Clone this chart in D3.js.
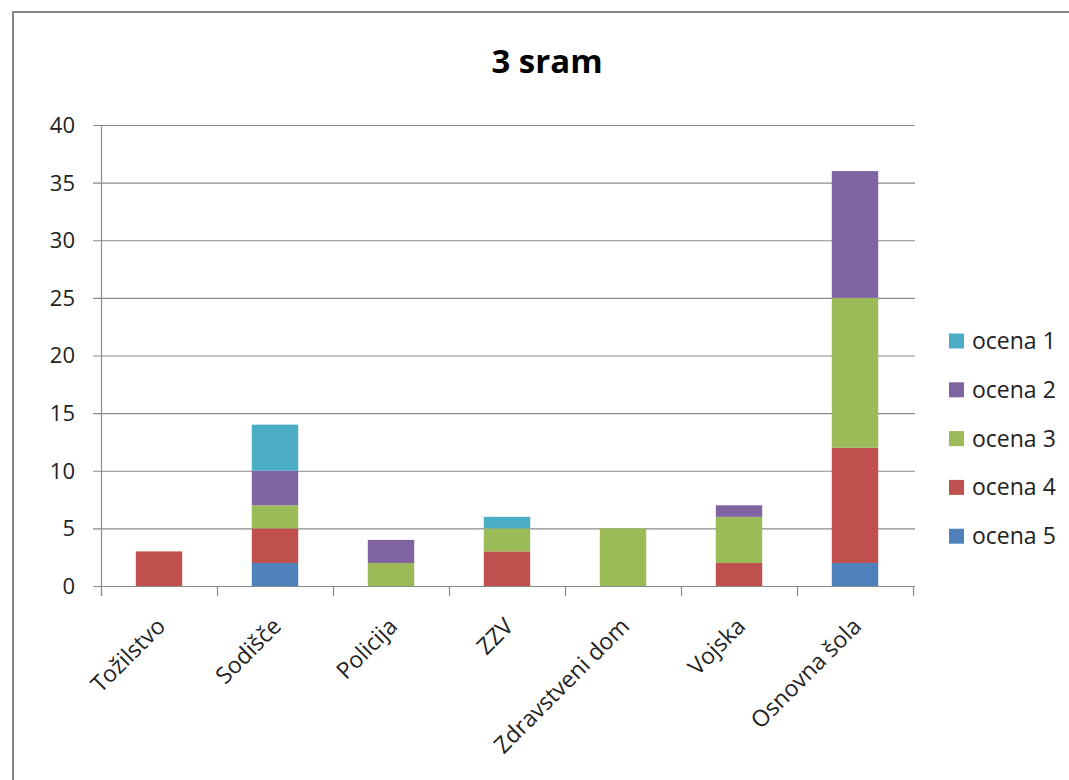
<!DOCTYPE html>
<html>
<head>
<meta charset="utf-8">
<script src="https://cdnjs.cloudflare.com/ajax/libs/d3/7.8.5/d3.min.js"></script>
<style>
  html, body { margin: 0; padding: 0; background: #fff; }
  svg { display: block; }
</style>
</head>
<body>
<svg id="chart" width="1069" height="780"></svg>
<script>
// Institutions on the x axis
const categories = ["Tožilstvo", "Sodišče", "Policija", "ZZV", "Zdravstveni dom", "Vojska", "Osnovna šola"];
// Counts per grade, stacked bottom-up: ocena 5, 4, 3, 2, 1
const ocena5 = [0, 2, 0, 0, 0, 0, 2];
const ocena4 = [3, 3, 0, 3, 0, 2, 10];
const ocena3 = [0, 2, 2, 2, 5, 4, 13];
const ocena2 = [0, 3, 2, 0, 0, 1, 11];
const ocena1 = [0, 4, 0, 1, 0, 0, 0];
const seriesNames = ["ocena 5", "ocena 4", "ocena 3", "ocena 2", "ocena 1"];
const seriesColors = ["#4F81BD", "#C0504D", "#9BBB59", "#8064A2", "#4BACC6"];
const yTicks = [0, 5, 10, 15, 20, 25, 30, 35, 40];
const title = "3 sram";

const svg = d3.select("#chart");
const font = "'Open Sans', 'DejaVu Sans', sans-serif";

// Outer chart frame
svg.append("rect")
  .attr("x", 13).attr("y", 12)
  .attr("width", 1069).attr("height", 800)
  .attr("fill", "#fff").attr("stroke", "#868686").attr("stroke-width", 2);

const plot = { left: 101, right: 913, top: 125, bottom: 586 };

const x = d3.scaleBand().domain(categories).range([plot.left, plot.right]).paddingInner(0.6).paddingOuter(0.3);
const xCat = d3.scaleBand().domain(categories).range([plot.left, plot.right]);
const y = d3.scaleLinear().domain([0, 40]).range([plot.bottom, plot.top]);

// Gridlines
svg.append("g").selectAll("line").data(yTicks).join("line")
  .attr("x1", plot.left - 8).attr("x2", plot.right + 2)
  .attr("y1", d => y(d) + 0.5).attr("y2", d => y(d) + 0.5)
  .attr("stroke", "#8a8a8a").attr("stroke-width", 1.2);

// Y axis line
svg.append("line")
  .attr("x1", plot.left + 0.5).attr("x2", plot.left + 0.5)
  .attr("y1", plot.top).attr("y2", plot.bottom + 10)
  .attr("stroke", "#8a8a8a").attr("stroke-width", 1.2);

// Y tick labels
svg.append("g").selectAll("text").data(yTicks).join("text")
  .attr("x", plot.left - 26).attr("y", d => y(d))
  .attr("dy", "0.36em").attr("text-anchor", "end")
  .attr("font-family", font).attr("font-size", 22).attr("fill", "#222")
  .text(d => d);

// Category tick marks on x axis
const boundaries = categories.map(c => xCat(c)).concat([plot.right]);
svg.append("g").selectAll("line").data(boundaries).join("line")
  .attr("x1", d => d + 0.5).attr("x2", d => d + 0.5)
  .attr("y1", plot.bottom).attr("y2", plot.bottom + 10)
  .attr("stroke", "#8a8a8a").attr("stroke-width", 1.2);

// Stacked bars
const seriesData = [ocena5, ocena4, ocena3, ocena2, ocena1];
const rows = categories.map((c, i) => {
  const r = { cat: c };
  seriesNames.forEach((s, j) => r[s] = seriesData[j][i]);
  return r;
});
const stack = d3.stack().keys(seriesNames)(rows);
svg.append("g").selectAll("g").data(stack).join("g")
  .attr("fill", (d, i) => seriesColors[i])
  .selectAll("rect").data(d => d.filter(p => p[1] > p[0])).join("rect")
  .attr("x", d => x(d.data.cat))
  .attr("width", x.bandwidth())
  .attr("y", d => y(d[1]))
  .attr("height", d => y(d[0]) - y(d[1]));

// Bottom axis line drawn over bars
svg.append("line")
  .attr("x1", plot.left).attr("x2", plot.right + 2)
  .attr("y1", plot.bottom + 0.5).attr("y2", plot.bottom + 0.5)
  .attr("stroke", "#8a8a8a").attr("stroke-width", 1.2);

// Rotated category labels
svg.append("g").selectAll("text").data(categories).join("text")
  .attr("transform", c => `translate(${xCat(c) + xCat.bandwidth() / 2 + 2},${plot.bottom + 36}) rotate(-45)`)
  .attr("text-anchor", "end").attr("dy", "0.35em")
  .attr("font-family", font).attr("font-size", 23).attr("fill", "#222")
  .text(c => c);

// Title
svg.append("text")
  .attr("x", 547).attr("y", 73)
  .attr("text-anchor", "middle")
  .attr("font-family", font).attr("font-weight", "bold").attr("font-size", 33).attr("fill", "#000")
  .text(title);

// Legend (ocena 1 on top)
const legendOrder = seriesNames.map((s, i) => ({ name: s, color: seriesColors[i] })).reverse();
const legend = svg.append("g").selectAll("g").data(legendOrder).join("g")
  .attr("transform", (d, i) => `translate(949,${341 + i * 48.8})`);
legend.append("rect")
  .attr("x", 0).attr("y", -7.5).attr("width", 15).attr("height", 15)
  .attr("fill", d => d.color);
legend.append("text")
  .attr("x", 23).attr("y", 0).attr("dy", "0.35em")
  .attr("font-family", font).attr("font-size", 23).attr("fill", "#222")
  .text(d => d.name);
</script>
</body>
</html>
